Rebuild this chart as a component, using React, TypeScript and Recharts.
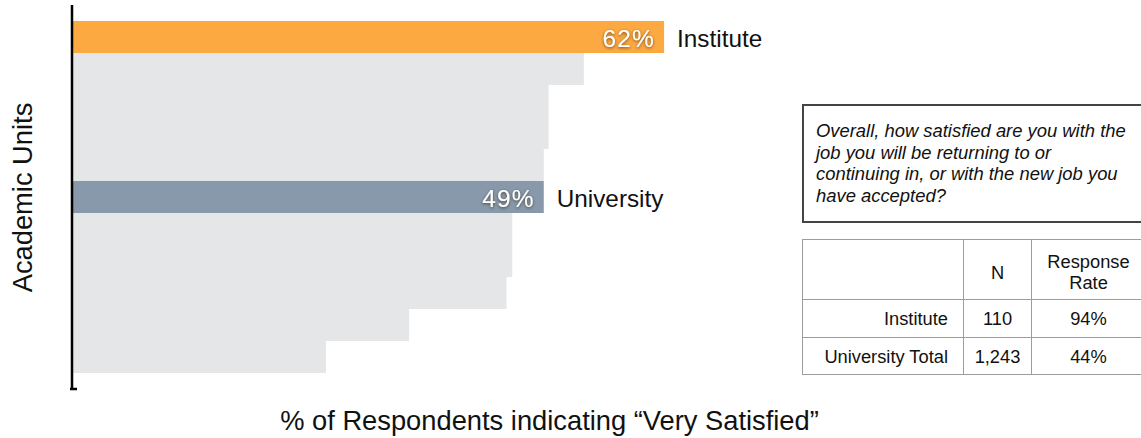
import React from 'react'
import { BarChart, Bar, XAxis, YAxis, Cell, LabelList } from 'recharts'

// academic units, top to bottom; only the two highlighted ones are named on the chart
const units = [
  'Institute',
  'Unit 2',
  'Unit 3',
  'Unit 4',
  'Unit 5',
  'University',
  'Unit 7',
  'Unit 8',
  'Unit 9',
  'Unit 10',
  'Unit 11',
]
// % of respondents indicating "Very Satisfied"
const verySatisfied = [62, 53.6, 49.9, 49.9, 49.4, 49.4, 46.1, 46.1, 45.5, 35.3, 26.6]
const highlighted = ['Institute', 'University']

const questionLines = [
  'Overall, how satisfied are you with the',
  'job you will be returning to or',
  'continuing in, or with the new job you',
  'have accepted?',
]
const tableHeader = ['', 'N', 'Response\nRate']
const tableRows = [
  ['Institute', '110', '94%'],
  ['University Total', '1,243', '44%'],
]

const FONT = '"Liberation Sans", Arial, Helvetica, sans-serif'
const barColors: Record<string, string> = {
  Institute: '#FCA941',
  University: '#8799AB',
}
const GRAY = '#E5E6E8'

const data = units.map((unit, i) => {
  const isHi = highlighted.includes(unit)
  return {
    unit,
    value: verySatisfied[i],
    pct: isHi ? `${Math.round(verySatisfied[i])}%` : '',
    name: isHi ? unit : '',
  }
})

const PctLabel = (props: any) => {
  const { x, y, width, height, value } = props
  if (!value) return null
  const id = `shadow-${String(value).replace('%', '')}`
  return (
    <g>
      <defs>
        <filter id={id} x="-20%" y="-40%" width="140%" height="180%">
          <feDropShadow dx="0" dy="1" stdDeviation="1.6" floodColor="#3a2a10" floodOpacity="0.75" />
        </filter>
      </defs>
      <text
        x={x + width - 9}
        y={y + height / 2 + 1}
        textAnchor="end"
        dominantBaseline="central"
        fill="#fff"
        fontFamily={FONT}
        fontSize={24.5}
        letterSpacing={1.2}
        filter={`url(#${id})`}
      >
        {value}
      </text>
    </g>
  )
}

const NameLabel = (props: any) => {
  const { x, y, width, height, value } = props
  if (!value) return null
  return (
    <text
      x={x + width + 13}
      y={y + height / 2 + 1}
      textAnchor="start"
      dominantBaseline="central"
      fill="#111"
      fontFamily={FONT}
      fontSize={24.3}
    >
      {value}
    </text>
  )
}

const BottomTick = (props: any) => {
  const { x, y } = props
  return <line x1={x - 2} x2={x + 5} y1={y - 9} y2={y - 9} stroke="#000" strokeWidth={2.5} />
}

const cellBorder = '1.5px solid #9c9c9c'

export default function App() {
  return (
    <div style={{ position: 'absolute', left: 0, top: 0, width: 1141, height: 438, background: '#fff', overflow: 'hidden' }}>
      <BarChart
        width={1141}
        height={438}
        layout="vertical"
        data={data}
        margin={{ top: 5, right: 114, bottom: 8, left: 0 }}
        barCategoryGap={0}
      >
        <XAxis
          type="number"
          domain={[0, 100]}
          ticks={[0]}
          height={40}
          axisLine={false}
          tickLine={false}
          tick={<BottomTick />}
          label={{
            content: (p: any) => {
              const vb = p.viewBox
              return (
                <text
                  x={vb.x + vb.width / 2}
                  y={vb.y + 30}
                  textAnchor="middle"
                  dominantBaseline="central"
                  fontFamily={FONT}
                  fontSize={27.3}
                  fill="#111"
                >
                  % of Respondents indicating “Very Satisfied”
                </text>
              )
            },
          }}
        />
        <Bar dataKey="value" isAnimationActive={false}>
          {data.map((d) => (
            <Cell key={d.unit} fill={barColors[d.unit] || GRAY} />
          ))}
          <LabelList dataKey="pct" content={<PctLabel />} />
          <LabelList dataKey="name" content={<NameLabel />} />
        </Bar>
        <YAxis
          type="category"
          dataKey="unit"
          width={72}
          tick={false}
          tickLine={false}
          axisLine={{ stroke: '#000', strokeWidth: 2.5 }}
          padding={{ top: 16, bottom: 17 }}
          label={{
            content: (p: any) => {
              const vb = p.viewBox
              const cx = 22
              const cy = vb.y + vb.height / 2
              return (
                <text
                  x={cx}
                  y={cy}
                  textAnchor="middle"
                  dominantBaseline="central"
                  transform={`rotate(-90 ${cx} ${cy})`}
                  fontFamily={FONT}
                  fontSize={27.3}
                  fill="#111"
                >
                  Academic Units
                </text>
              )
            },
          }}
        />
      </BarChart>

      <div style={{ position: 'absolute', left: 802, top: 100, width: 339, height: 290, overflow: 'hidden', fontFamily: FONT, color: '#111' }}>
        <div
          style={{
            position: 'absolute',
            left: 0,
            top: 4,
            width: 360,
            height: 119,
            boxSizing: 'border-box',
            border: '2px solid #444',
            padding: '14px 0 0 12px',
            fontStyle: 'italic',
            fontSize: 18.4,
            lineHeight: '21.7px',
          }}
        >
          {questionLines.map((l) => (
            <div key={l} style={{ whiteSpace: 'nowrap' }}>{l}</div>
          ))}
        </div>

        <table
          style={{
            position: 'absolute',
            left: 0,
            top: 139,
            borderCollapse: 'collapse',
            tableLayout: 'fixed',
            fontSize: 18.3,
            width: 343,
          }}
        >
          <colgroup>
            <col style={{ width: 161 }} />
            <col style={{ width: 68 }} />
            <col style={{ width: 114 }} />
          </colgroup>
          <tbody>
            <tr style={{ height: 60 }}>
              {tableHeader.map((h, i) => (
                <td
                  key={i}
                  style={{
                    border: cellBorder,
                    textAlign: 'center',
                    padding: '5px 0 0 0',
                    lineHeight: '21px',
                    whiteSpace: 'pre-line',
                  }}
                >
                  {h}
                </td>
              ))}
            </tr>
            {tableRows.map((r, ri) => (
              <tr key={ri} style={{ height: ri === 0 ? 38 : 37 }}>
                {r.map((c, ci) => (
                  <td
                    key={ci}
                    style={{
                      border: cellBorder,
                      textAlign: ci === 0 ? 'right' : 'center',
                      padding: ci === 0 ? '1px 15px 0 0' : '1px 0 0 0',
                      lineHeight: '20px',
                    }}
                  >
                    {c}
                  </td>
                ))}
              </tr>
            ))}
          </tbody>
        </table>
      </div>
    </div>
  )
}
